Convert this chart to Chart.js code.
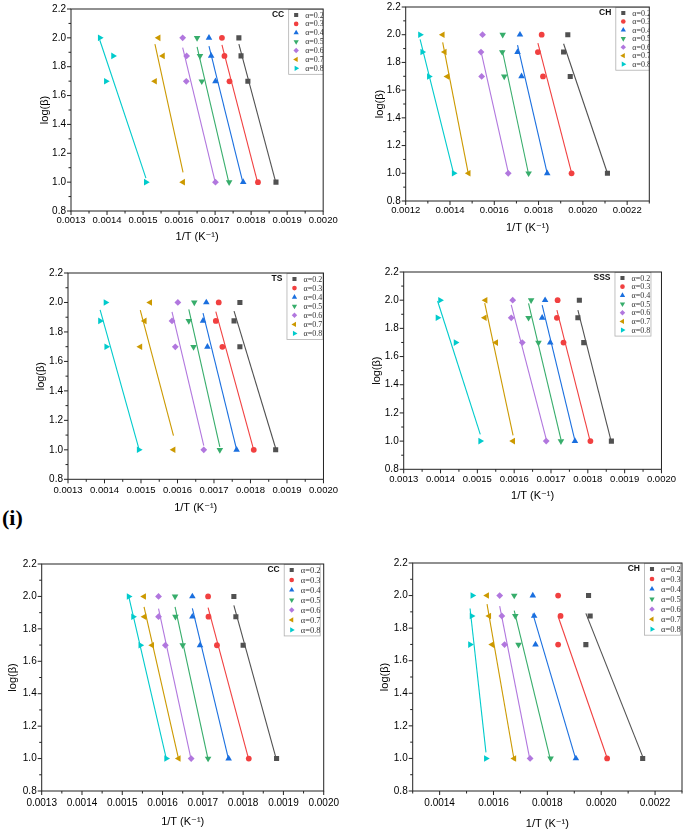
<!DOCTYPE html>
<html><head><meta charset="utf-8">
<script src="https://cdn.jsdelivr.net/npm/chart.js@4.4.1/dist/chart.umd.min.js"></script>
<style>
html,body{margin:0;padding:0;width:685px;height:832px;overflow:hidden;background:#fff;position:relative;}
canvas{position:absolute;}
#lab{position:absolute;left:2px;top:507px;font:bold 22px "Liberation Serif","Times New Roman",serif;line-height:1;color:#000;}
</style></head><body>
<div id="lab">(i)</div>
<script>
// ---------------- DATA ----------------
const logBeta = [2.0, 1.875, 1.699, 1.0];           // log(heating rate) levels
const alphaLabels = ['α=0.2','α=0.3','α=0.4','α=0.5','α=0.6','α=0.7','α=0.8'];
const panelNames = ['CC','CH','TS','SSS','CC','CH'];

// 1/T values (K^-1) for each alpha, ordered as logBeta
const invT_CC_top = [
  [0.001766, 0.001772, 0.001791, 0.001869],
  [0.001719, 0.001726, 0.001740, 0.001819],
  [0.001683, 0.001689, 0.001701, 0.001778],
  [0.001650, 0.001658, 0.001663, 0.001739],
  [0.001610, 0.001621, 0.001620, 0.001701],
  [0.001543, 0.001555, 0.001533, 0.001611],
  [0.001380, 0.001417, 0.001397, 0.001508]
];
const invT_CH_top = [
  [0.001932, 0.001913, 0.001943, 0.002111],
  [0.001814, 0.001797, 0.001820, 0.001949],
  [0.001716, 0.001705, 0.001723, 0.001839],
  [0.001638, 0.001636, 0.001645, 0.001755],
  [0.001547, 0.001540, 0.001543, 0.001663],
  [0.001367, 0.001376, 0.001388, 0.001484],
  [0.001265, 0.001275, 0.001305, 0.001417]
];
const invT_TS = [
  [0.001771, 0.001755, 0.001771, 0.001869],
  [0.001713, 0.001705, 0.001723, 0.001809],
  [0.001679, 0.001670, 0.001682, 0.001762],
  [0.001646, 0.001631, 0.001644, 0.001716],
  [0.001601, 0.001585, 0.001594, 0.001672],
  [0.001525, 0.001510, 0.001498, 0.001589],
  [0.001403, 0.001388, 0.001405, 0.001494]
];
const invT_SSS = [
  [0.001777, 0.001773, 0.001789, 0.001864],
  [0.001718, 0.001716, 0.001734, 0.001807],
  [0.001684, 0.001676, 0.001698, 0.001765],
  [0.001646, 0.001639, 0.001666, 0.001727],
  [0.001596, 0.001592, 0.001622, 0.001687],
  [0.001522, 0.001520, 0.001551, 0.001597],
  [0.001399, 0.001392, 0.001441, 0.001508]
];
const invT_CC_bot = [
  [0.001777, 0.001782, 0.001800, 0.001883],
  [0.001713, 0.001714, 0.001735, 0.001814],
  [0.001674, 0.001674, 0.001693, 0.001764],
  [0.001631, 0.001632, 0.001650, 0.001713],
  [0.001590, 0.001590, 0.001607, 0.001671],
  [0.001554, 0.001555, 0.001574, 0.001640],
  [0.001516, 0.001527, 0.001545, 0.001609]
];
const invT_CH_bot = [
  [0.001953, 0.001959, 0.001943, 0.002154],
  [0.001840, 0.001849, 0.001840, 0.002022],
  [0.001746, 0.001751, 0.001756, 0.001906],
  [0.001677, 0.001681, 0.001693, 0.001812],
  [0.001623, 0.001631, 0.001641, 0.001736],
  [0.001576, 0.001584, 0.001595, 0.001677],
  [0.001522, 0.001519, 0.001513, 0.001572]
];

// tick labels
const xTicksA = ['0.0013','0.0014','0.0015','0.0016','0.0017','0.0018','0.0019','0.0020'];
const xTicksB = ['0.0012','0.0014','0.0016','0.0018','0.0020','0.0022'];
const xTicksC = ['0.0014','0.0016','0.0018','0.0020','0.0022'];
const yTicks  = ['0.8','1.0','1.2','1.4','1.6','1.8','2.0','2.2'];

// ---------------- STYLE / LAYOUT ----------------
const colors = ['#515151','#F14040','#1A6FDF','#37AD6B','#B177DE','#CC9900','#00CBCC'];
const shapes = ['rect','circle','triangle','triangle','rectRot','triangle','triangle'];
const rots   = [0,0,0,180,0,270,90];
const radii  = [3.6,2.9,3.8,3.8,3.4,3.8,3.8];

const panels = [
  {data:invT_CC_top, xt:xTicksA, xr:[0.0013,0.0020], L:71,    T:6,     R:325,   B:211,   yTX:45,    xTY:237,   xPad:3.3, xFs:9.5, legOff:35},
  {data:invT_CH_top, xt:xTicksB, xr:[0.0012,0.0023], L:405.7, T:4.7,   R:649.3, B:201,   yTX:380,   xTY:228,   xPad:4,   xFs:9.5, legOff:34},
  {data:invT_TS,     xt:xTicksA, xr:[0.0013,0.0020], L:68,    T:270.7, R:327,   B:479.3, yTX:40.7,  xTY:508.3, xPad:5,   xFs:9.5, legOff:37},
  {data:invT_SSS,    xt:xTicksA, xr:[0.0013,0.0020], L:403.7, T:269,   R:664,   B:469.3, yTX:377.3, xTY:495.7, xPad:4,   xFs:9.5, legOff:47},
  {data:invT_CC_bot, xt:xTicksA, xr:[0.0013,0.0020], L:41.7,  T:561,   R:328.3, B:791,   yTX:12.7,  xTY:821.7, xPad:6,   xFs:10,  legOff:40},
  {data:invT_CH_bot, xt:xTicksC, xr:[0.0013,0.0023], L:412.7, T:560.7, R:682,   B:791,   yTX:385,   xTY:824,   xPad:6,   xFs:10,  legOff:38}
];

const SANS = "'Liberation Sans', Arial, 'DejaVu Sans', sans-serif";
const SERIF = "'Liberation Serif', 'Times New Roman', 'DejaVu Serif', serif";

function fitLine(xs, ys){
  const n = xs.length;
  const mx = xs.reduce((a,b)=>a+b,0)/n, my = ys.reduce((a,b)=>a+b,0)/n;
  let sxx=0, sxy=0;
  for(let i=0;i<n;i++){ sxx+=(xs[i]-mx)*(xs[i]-mx); sxy+=(xs[i]-mx)*(ys[i]-my); }
  const b = sxy/sxx, a = my-b*mx;
  const x0 = Math.min(...xs), x1 = Math.max(...xs);
  return [{x:x0,y:a+b*x0},{x:x1,y:a+b*x1}];
}
function minorsOf(majors, min, max){
  const st = majors[1]-majors[0], out=[];
  for(let v = majors[0]-st/2; v <= max+1e-12; v += st){ if(v >= min-1e-12) out.push(v); }
  return out;
}
function marker(ctx, style, rot, r, x, y, color){
  ctx.fillStyle = color; ctx.beginPath();
  if(style==='rect'){ const s=r*Math.SQRT1_2; ctx.rect(x-s,y-s,2*s,2*s); }
  else if(style==='circle'){ ctx.arc(x,y,r,0,Math.PI*2); }
  else if(style==='rectRot'){ ctx.moveTo(x,y-r); ctx.lineTo(x+r,y); ctx.lineTo(x,y+r); ctx.lineTo(x-r,y); ctx.closePath(); }
  else { let a=rot*Math.PI/180; for(let k=0;k<3;k++){ const px=x+Math.sin(a)*r, py=y-Math.cos(a)*r; if(k===0) ctx.moveTo(px,py); else ctx.lineTo(px,py); a+=Math.PI*2/3; } ctx.closePath(); }
  ctx.fill();
}

const deco = {
  id:'deco',
  afterDatasetsDraw(chart, args, o){
    const ctx = chart.ctx, {left,right,top,bottom} = chart.chartArea;
    const xs = chart.scales.x, ys = chart.scales.y;
    ctx.save();
    ctx.strokeStyle = '#222'; ctx.lineWidth = 1;
    ctx.beginPath();
    o.xMaj.forEach(v=>{ const p=xs.getPixelForValue(v); ctx.moveTo(p,bottom); ctx.lineTo(p,bottom+4); });
    o.xMin.forEach(v=>{ const p=xs.getPixelForValue(v); ctx.moveTo(p,bottom); ctx.lineTo(p,bottom+2.5); });
    o.yMaj.forEach(v=>{ const p=ys.getPixelForValue(v); ctx.moveTo(left,p); ctx.lineTo(left-4,p); });
    o.yMin.forEach(v=>{ const p=ys.getPixelForValue(v); ctx.moveTo(left,p); ctx.lineTo(left-2.5,p); });
    ctx.stroke();
    // legend
    const H = bottom-top, sp = 0.044*H, y0 = top+6;
    const bx = right - o.legOff, bw = 36, by1 = y0 + 6*sp + 5.5;
    ctx.save();
    ctx.beginPath(); ctx.rect(left, top-2, right-left, H+4); ctx.clip();
    ctx.fillStyle = '#fff'; ctx.fillRect(bx, top, bw, by1-top);
    ctx.strokeStyle = '#b0b0b0'; ctx.lineWidth = 0.8; ctx.strokeRect(bx+0.5, top+0.5, bw, by1-top);
    const fs = H > 215 ? 8.5 : 8;
    ctx.font = fs + 'px ' + SERIF; ctx.textAlign='left'; ctx.textBaseline='middle';
    for(let i=0;i<7;i++){
      const yy = y0 + i*sp;
      marker(ctx, shapes[i], rots[i], radii[i]*0.8, bx+8, yy, colors[i]);
      ctx.fillStyle = '#333'; ctx.fillText(alphaLabels[i], bx+17, yy+0.5);
    }
    ctx.restore();
    ctx.font = 'bold 8.5px ' + SANS; ctx.fillStyle='#111'; ctx.textAlign='right'; ctx.textBaseline='middle';
    ctx.fillText(o.name, bx-4, y0);
    // frame
    ctx.strokeStyle = '#222'; ctx.lineWidth = 1;
    ctx.strokeRect(left, top, right-left, bottom-top);
    ctx.restore();
  }
};

const yMaj = yTicks.map(Number);
const yMin = minorsOf(yMaj, 0.8, 2.2);
const TFS = 11, OFF = 4 + TFS*1.2/2;

panels.forEach((p, pi)=>{
  const cx0 = Math.floor(p.yTX - 12), cy0 = Math.floor(p.T - 8);
  const cx1 = Math.ceil(p.R + 16), cy1 = Math.ceil(p.xTY + OFF + 1);
  const W = cx1-cx0, Hc = cy1-cy0;
  const padL = p.yTX - OFF - cx0, yW = p.L - cx0 - padL;
  const padT = p.T - cy0, padR = cx1 - p.R;
  const padB = cy1 - (p.xTY + OFF), xH = (p.xTY + OFF) - p.B;
  const cv = document.createElement('canvas');
  cv.width = W; cv.height = Hc;
  cv.style.left = cx0+'px'; cv.style.top = cy0+'px';
  cv.style.width = W+'px'; cv.style.height = Hc+'px';
  document.body.appendChild(cv);

  const xMaj = p.xt.map(Number);
  const xMin = minorsOf(xMaj, p.xr[0], p.xr[1]);
  const datasets = [];
  p.data.forEach((xs, i)=>{
    datasets.push({
      label: alphaLabels[i], order: 0,
      data: xs.map((x,k)=>({x:x, y:logBeta[k]})),
      showLine:false, pointStyle: shapes[i], pointRotation: rots[i], pointRadius: radii[i],
      pointBackgroundColor: colors[i], pointBorderColor: colors[i], pointBorderWidth: 0,
      backgroundColor: colors[i], borderColor: colors[i]
    });
    datasets.push({
      label: alphaLabels[i]+' fit', order: 1,
      data: fitLine(xs, logBeta), showLine:true, pointRadius:0,
      borderColor: colors[i], borderWidth: 1.1, fill:false
    });
  });

  new Chart(cv, {
    type:'scatter',
    data:{datasets},
    plugins:[deco],
    options:{
      responsive:false, animation:false, devicePixelRatio: window.devicePixelRatio || 1,
      layout:{padding:{left:padL, top:padT, right:padR, bottom:padB}},
      plugins:{legend:{display:false}, tooltip:{enabled:false},
        deco:{name:panelNames[pi], legOff:p.legOff, xMaj, xMin, yMaj, yMin}},
      scales:{
        x:{type:'linear', min:p.xr[0], max:p.xr[1],
          afterBuildTicks: s=>{ s.ticks = xMaj.map(v=>({value:v})); },
          afterFit: s=>{ s.height = xH; },
          ticks:{callback:(v,i)=>p.xt[i], autoSkip:false, maxRotation:0, minRotation:0,
            padding:p.xPad, color:'#000', font:{family:SANS, size:p.xFs}},
          grid:{display:false, drawTicks:false, tickLength:0}, border:{display:false},
          title:{display:true, text:'1/T (K⁻¹)', color:'#000', font:{family:SANS, size:TFS}, padding:4}
        },
        y:{type:'linear', min:0.8, max:2.2,
          afterBuildTicks: s=>{ s.ticks = yMaj.map(v=>({value:v})); },
          afterFit: s=>{ s.width = yW; },
          ticks:{callback:(v,i)=>yTicks[i], autoSkip:false, padding:5, color:'#000', font:{family:SANS, size:10}},
          grid:{display:false, drawTicks:false, tickLength:0}, border:{display:false},
          title:{display:true, text:'log(β)', color:'#000', font:{family:SANS, size:TFS}, padding:4}
        }
      }
    }
  });
});
</script>
</body></html>
